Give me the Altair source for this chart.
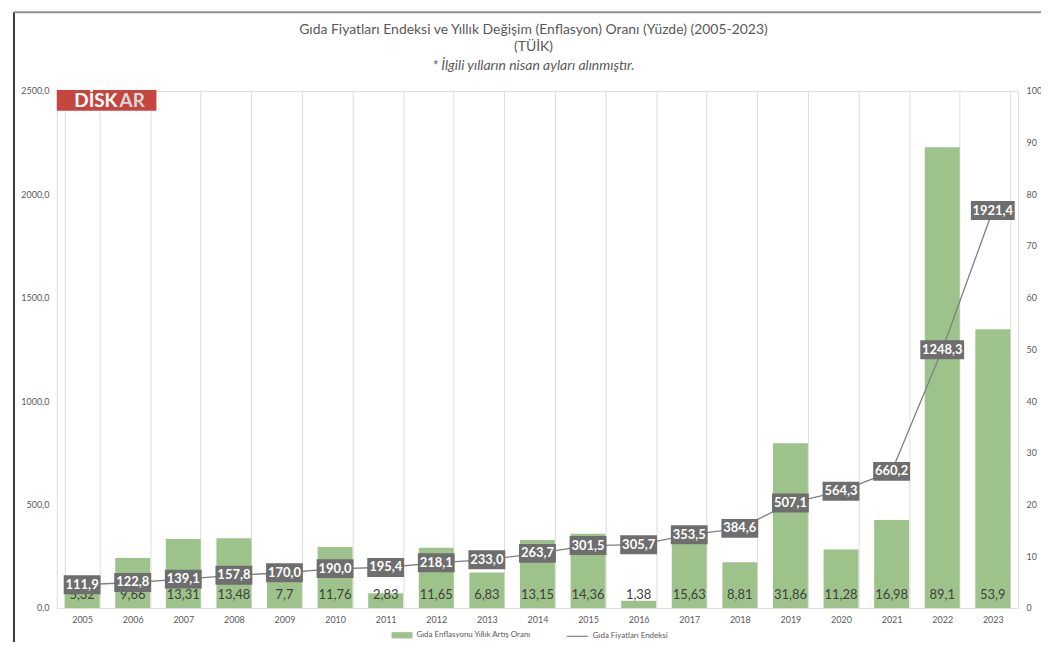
import altair as alt
import pandas as pd

years = [str(y) for y in range(2005, 2024)]
inflation = [5.32, 9.66, 13.31, 13.48, 7.7, 11.76, 2.83, 11.65, 6.83, 13.15,
             14.36, 1.38, 15.63, 8.81, 31.86, 11.28, 16.98, 89.1, 53.9]
index_vals = [111.9, 122.8, 139.1, 157.8, 170.0, 190.0, 195.4, 218.1, 233.0, 263.7,
              301.5, 305.7, 353.5, 384.6, 507.1, 564.3, 660.2, 1248.3, 1921.4]

bar_name = "Gıda Enflasyonu Yıllık Artış Oranı"
line_name = "Gıda Fiyatları Endeksi"
title_lines = ["Gıda Fiyatları Endeksi ve Yıllık Değişim (Enflasyon) Oranı (Yüzde) (2005-2023)", "(TÜİK)"]
subtitle_line = "* İlgili yılların nisan ayları alınmıştır."

df = pd.DataFrame({"year": years, "inf": inflation, "idx": index_vals})
deco_df = pd.DataFrame({"k": [0]})

FONT = "Lato"
GREEN = "#9DC38B"
LINE = "#7f7f7f"
BOX = "#6e6e6e"
TXT = "#595959"

base = alt.Chart(df).transform_calculate(
    bs=f"'{bar_name}'",
    ls=f"'{line_name}'",
    zero="0",
    blbl="replace(toString(datum.inf), '.', ',')",
    llbl="replace(format(datum.idx, '.1f'), '.', ',')",
    shp="datum.idx >= 1000 ? 'M-2.2,-0.95L2.2,-0.95L2.2,0.95L-2.2,0.95Z' : 'M-1.85,-0.95L1.85,-0.95L1.85,0.95L-1.85,0.95Z'",
)

x_enc = alt.X(
    "year:N",
    sort=years,
    scale=alt.Scale(paddingInner=0.31, paddingOuter=0.155),
    axis=alt.Axis(title=None, labelAngle=0, labelFontSize=9, labelColor=TXT, labelFont=FONT,
                  labelPadding=8, domain=False, ticks=False, grid=True, gridColor="#dcdcdc",
                  tickBand="extent"),
)

axis_r = alt.Axis(orient="right", values=list(range(0, 101, 10)), grid=False, domain=False,
                  ticks=False, labelFontSize=9, labelColor=TXT, labelFont=FONT, labelPadding=8,
                  title=None)
scale_r = alt.Scale(domain=[0, 100], nice=False)

axis_l = alt.Axis(
    orient="left", values=list(range(0, 2501, 100)), domain=False, ticks=False,
    labelExpr="datum.value % 500 == 0 ? replace(format(datum.value, '.1f'), '.', ',') : ''",
    gridColor={"condition": {"test": "datum.value % 500 === 0", "value": "#d9d9d9"}, "value": "#efefef"},
    labelFontSize=9, labelColor=TXT, labelFont=FONT, labelPadding=8, title=None,
)
scale_l = alt.Scale(domain=[0, 2500], nice=False)

bars = base.mark_bar(opacity=1).encode(
    x=x_enc,
    y=alt.Y("inf:Q", scale=scale_r, axis=axis_r),
    color=alt.Color("bs:N", scale=alt.Scale(domain=[bar_name], range=[GREEN]),
                    legend=alt.Legend(orient="none", legendX=336, legendY=536, title=None,
                                      symbolType="M-1,-0.3L1,-0.3L1,0.3L-1,0.3Z", symbolSize=441,
                                      symbolStrokeWidth=0, labelFontSize=8, labelColor=TXT,
                                      labelFont=FONT, padding=0, labelOffset=4)),
)
bar_text = base.mark_text(color="#404040", fontSize=13, font=FONT, dy=-13, baseline="middle").encode(
    x=x_enc,
    y=alt.Y("zero:Q", scale=scale_r, axis=axis_r),
    text="blbl:N",
)

line = base.mark_line(strokeWidth=1.3).encode(
    x=x_enc,
    y=alt.Y("idx:Q", scale=scale_l, axis=axis_l),
    stroke=alt.Stroke("ls:N", scale=alt.Scale(domain=[line_name], range=[LINE]),
                      legend=alt.Legend(orient="none", legendX=511, legendY=536, title=None,
                                        symbolType="stroke", symbolSize=441, symbolStrokeWidth=1.2,
                                        labelFontSize=8, labelColor=TXT, labelFont=FONT,
                                        padding=0, labelOffset=4)),
)
boxes = base.mark_point(filled=True, size=400, opacity=1, color=BOX, strokeWidth=0).encode(
    x=x_enc,
    y=alt.Y("idx:Q", scale=scale_l, axis=axis_l),
    shape=alt.Shape("shp:N", scale=None, legend=None),
)
line_text = base.mark_text(color="white", fontSize=13, font=FONT, fontWeight="bold",
                           baseline="middle").encode(
    x=x_enc,
    y=alt.Y("idx:Q", scale=scale_l, axis=axis_l),
    text="llbl:N",
)

frame_left = alt.Chart(deco_df).mark_rule(color="#3a3a3a", strokeWidth=2).encode(
    x=alt.value(-43), y=alt.value(-79), y2=alt.value(570))
frame_top = alt.Chart(deco_df).mark_rule(color="#8f8f8f", strokeWidth=2).encode(
    x=alt.value(-43), x2=alt.value(1000), y=alt.value(-79))
logo_rect = alt.Chart(deco_df).mark_rect(color="#C4463F").encode(
    x=alt.value(0), x2=alt.value(100), y=alt.value(-1), y2=alt.value(20))
logo_a = alt.Chart(deco_df).mark_text(text="DİSK", color="white", fontSize=19, font=FONT,
                                      fontWeight="bold", align="right", baseline="middle").encode(
    x=alt.value(61), y=alt.value(10))
logo_b = alt.Chart(deco_df).mark_text(text="AR", color="#d9d9d9", fontSize=19, font=FONT,
                                      fontWeight="bold", align="left", baseline="middle").encode(
    x=alt.value(63), y=alt.value(10))

bar_layer = alt.layer(bars, bar_text)
line_layer = alt.layer(line, boxes, line_text)

chart = alt.layer(bar_layer, line_layer, frame_left, frame_top, logo_rect, logo_a, logo_b).resolve_scale(
    y="independent"
).properties(
    width=965,
    height=519,
    autosize=alt.AutoSizeParams(type="none"),
    padding={"left": 49, "top": 82, "right": 23, "bottom": 33},
    title=alt.Title(text=title_lines, subtitle=subtitle_line, fontSize=14, font=FONT,
                    fontWeight="normal", color=TXT, lineHeight=17, subtitleFont=FONT,
                    subtitleFontSize=14, subtitleFontStyle="italic", subtitleColor=TXT,
                    subtitlePadding=5, anchor="middle", offset=-62, dx=-4, frame="group"),
).configure_view(stroke=None).configure(background="white")

chart.save("out.html", embed_options={"renderer": "svg", "actions": False})
